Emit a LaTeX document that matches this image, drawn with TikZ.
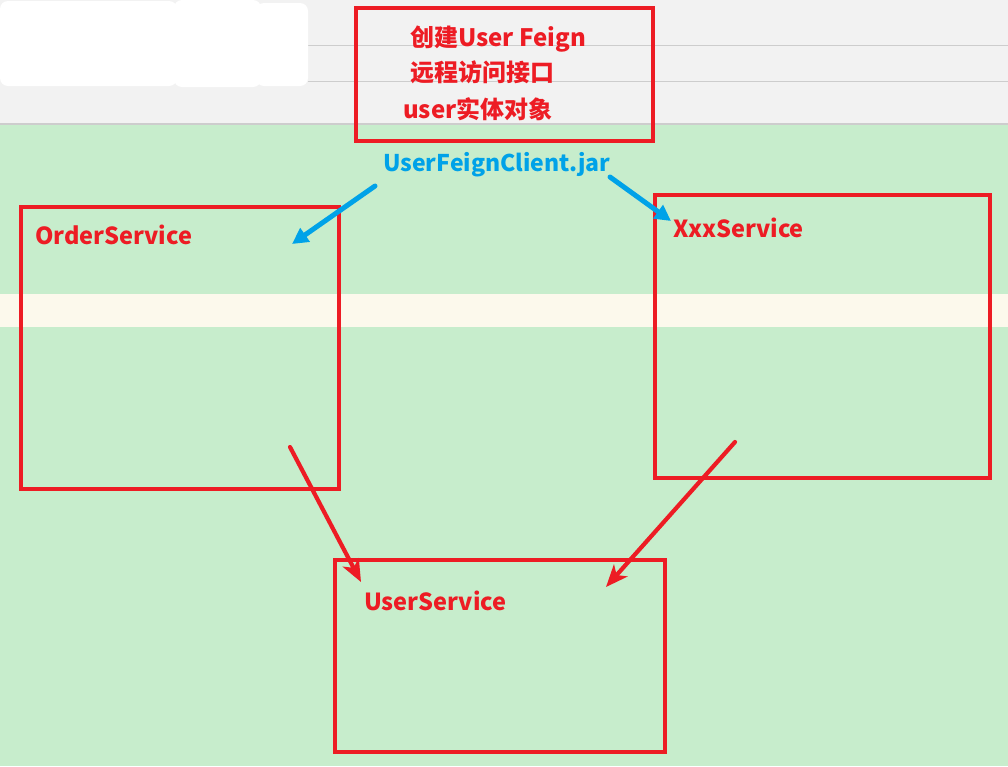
\documentclass[tikz,border=0pt]{standalone}
\usepackage{fontspec}
\setmainfont{Noto Sans CJK SC}
\usetikzlibrary{arrows.meta}
\definecolor{boxred}{HTML}{ED1C24}
\definecolor{jarblue}{HTML}{00A2E8}
\definecolor{bggreen}{HTML}{C7EDCC}
\definecolor{bgcream}{HTML}{FCF9EC}
\definecolor{bggray}{HTML}{F2F2F2}
\definecolor{rulegray}{HTML}{CDCDCD}
\tikzset{
  svcbox/.style={draw=boxred, line width=4.2pt, rectangle, inner sep=0pt},
  redtxt/.style={text=boxred, font=\bfseries\fontsize{23.5}{28}\selectfont, inner sep=0pt, anchor=west},
  cntxt/.style={text=boxred, font=\bfseries\fontsize{24}{28}\selectfont, inner sep=0pt, anchor=west},
  bluetxt/.style={text=jarblue, font=\bfseries\fontsize{23}{28}\selectfont, inner sep=0pt, anchor=west},
  bluearrow/.style={draw=jarblue, line width=5pt, line cap=round, -{Triangle[length=16pt,width=16pt]}},
  redarrow/.style={draw=boxred, line width=4.2pt, line cap=round, -{Stealth[length=22pt,width=18pt,inset=6pt]}},
  whitetab/.style={fill=white, rounded corners=8pt}
}
\begin{document}
\begin{tikzpicture}[x=1pt,y=-1pt]
\useasboundingbox (0,0) rectangle (1008,766);
% backgrounds
\fill[bggray] (0,0) rectangle (1008,124);
\fill[bggreen] (0,124) rectangle (1008,766);
\fill[bgcream] (0,294) rectangle (1008,327);
\draw[rulegray, line width=1.2pt] (0,124) -- (1008,124);
\draw[rulegray, line width=1pt] (308,45) -- (1008,45);
\draw[rulegray, line width=1pt] (308,81) -- (1008,81);
\fill[whitetab] (0,1) rectangle (177,86);
\fill[whitetab] (174,0) rectangle (261,87);
\fill[whitetab] (256,3) rectangle (308,86);
% boxes
\node[svcbox, minimum width=297pt, minimum height=133pt] (top) at (504.5,74.5) {};
\node[svcbox, minimum width=318pt, minimum height=282pt] (order) at (180,348) {};
\node[svcbox, minimum width=335pt, minimum height=283pt] (xxx) at (822.5,336.5) {};
\node[svcbox, minimum width=330pt, minimum height=192pt] (user) at (500,656) {};
% texts
\node[cntxt] (t1) at (410,39) {创建User Feign};
\node[cntxt] (t2) at (410,72) {远程访问接口};
\node[cntxt] (t3) at (403,109) {user实体对象};
\node[bluetxt] (jar) at (383,165) {UserFeignClient.jar};
\node[redtxt] (lorder) at (35,235) {OrderService};
\node[redtxt] (lxxx) at (673,228) {XxxService};
\node[redtxt] (luser) at (364,601) {UserService};
% arrow end points
\coordinate (b1s) at (375,186);
\coordinate (b1e) at (292,244);
\coordinate (b2s) at (610,177);
\coordinate (b2e) at (671,221);
\coordinate (r1s) at (290,447);
\coordinate (r1e) at (361,582);
\coordinate (r2s) at (735,442);
\coordinate (r2e) at (606,587);
\draw[bluearrow] (b1s) -- (b1e);
\draw[bluearrow] (b2s) -- (b2e);
\draw[redarrow] (r1s) -- (r1e);
\draw[redarrow] (r2s) -- (r2e);
\end{tikzpicture}
\end{document}
